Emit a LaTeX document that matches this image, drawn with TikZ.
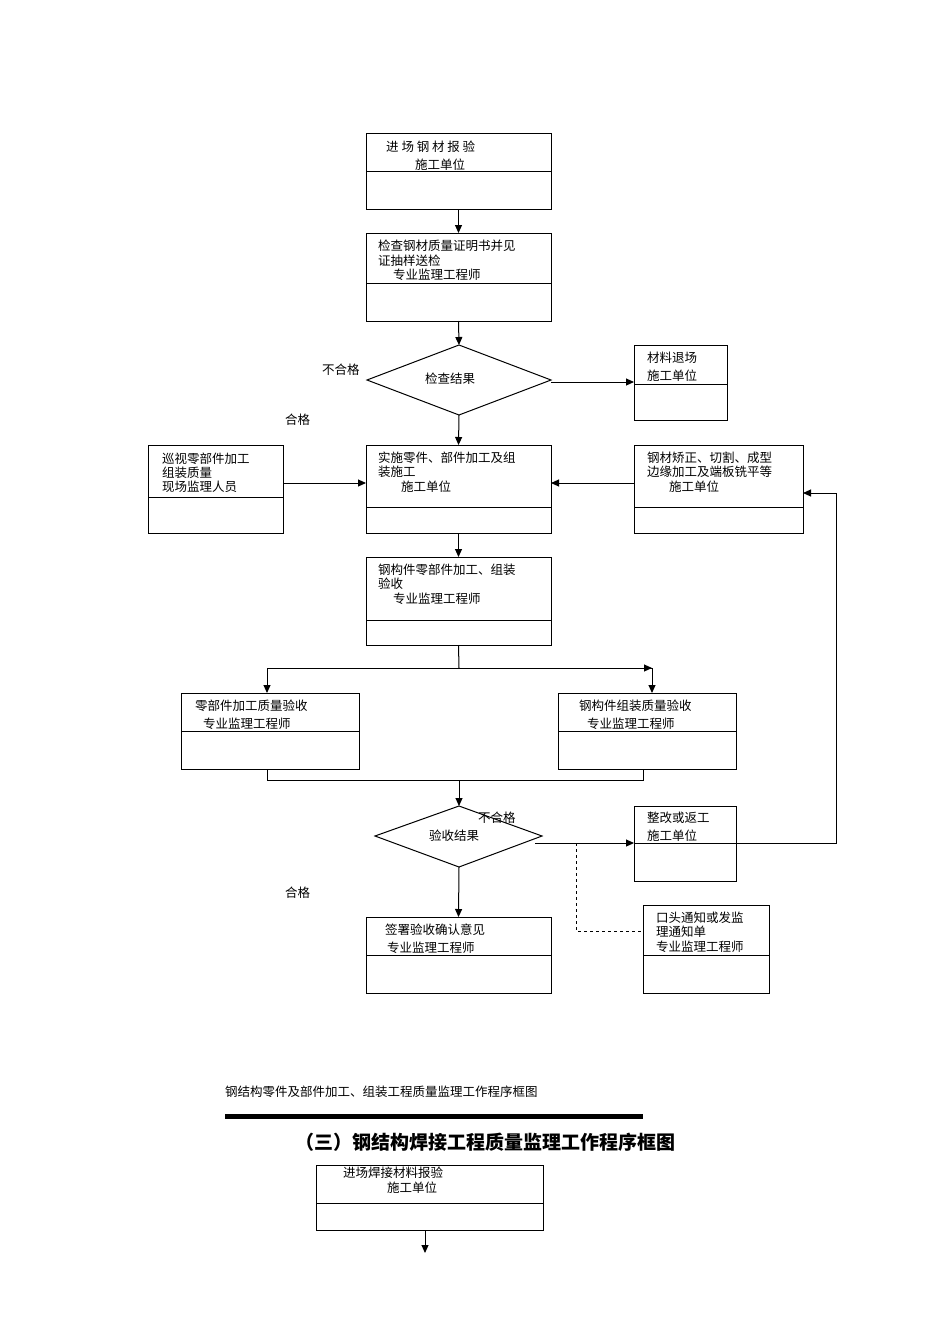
\documentclass[tikz,border=0pt]{standalone}
\usepackage{fontspec}
\newfontfamily\cjk{Noto Sans CJK SC}
\usetikzlibrary{shapes.geometric,arrows.meta}
\begin{document}
\begin{tikzpicture}[x=1pt,y=-1pt,
  bx/.style={draw,line width=1pt},
  tx/.style={anchor=west,inner sep=0pt,font=\cjk\fontsize{12.5}{13}\selectfont},
  ar/.style={-{Triangle[length=8pt,width=7pt]},line width=1pt},
  ln/.style={line width=1pt},
  dm/.style={draw,line width=1pt,diamond,aspect=2.6,inner sep=0pt}]
\useasboundingbox (0,0) rectangle (950,1344);
% box macro via paths
\newcommand{\mybox}[6]{\draw[bx] (#2,#3) rectangle (#4,#5); \draw[ln] (#2,#6) -- (#4,#6);
 \coordinate (#1-n) at ({(#2+#4)/2},#3); \coordinate (#1-s) at ({(#2+#4)/2},#5);
 \coordinate (#1-w) at (#2,{(#3+#5)/2}); \coordinate (#1-e) at (#4,{(#3+#5)/2});}
\mybox{b1}{366}{133}{551}{209}{171}
\node[tx] (t1a) at (386,147) {进 场 钢 材 报 验};
\node[tx] (t1b) at (415,165) {施工单位};
\mybox{b2}{366}{233}{551}{321}{283}
\node[tx] (t2a) at (378,246) {检查钢材质量证明书并见};
\node[tx] (t2b) at (378,261) {证抽样送检};
\node[tx] (t2c) at (393,275) {专业监理工程师};
\draw[dm] (459,345) -- (551,380) -- (459,415) -- (367,380) -- cycle;
\coordinate (d1-n) at (459,345); \coordinate (d1-s) at (459,415); \coordinate (d1-e) at (551,382);
\node[tx] (d1t) at (425,379) {检查结果};
\node[tx] (l1) at (322,370) {不合格};
\node[tx] (l2) at (285,420) {合格};
\mybox{b3}{634}{345}{727}{420}{384}
\node[tx] (t3a) at (647,358) {材料退场};
\node[tx] (t3b) at (647,376) {施工单位};
\mybox{b4}{148}{445}{283}{533}{497}
\node[tx] (t4a) at (162,459) {巡视零部件加工};
\node[tx] (t4b) at (162,473) {组装质量};
\node[tx] (t4c) at (162,487) {现场监理人员};
\mybox{b5}{366}{445}{551}{533}{507}
\node[tx] (t5a) at (378,458) {实施零件、部件加工及组};
\node[tx] (t5b) at (378,472) {装施工};
\node[tx] (t5c) at (401,487) {施工单位};
\mybox{b6}{634}{445}{803}{533}{507}
\node[tx] (t6a) at (647,458) {钢材矫正、切割、成型};
\node[tx] (t6b) at (647,472) {边缘加工及端板铣平等};
\node[tx] (t6c) at (669,487) {施工单位};
\mybox{b7}{366}{557}{551}{645}{620}
\node[tx] (t7a) at (378,570) {钢构件零部件加工、组装};
\node[tx] (t7b) at (378,584) {验收};
\node[tx] (t7c) at (393,599) {专业监理工程师};
\mybox{b8}{181}{693}{359}{769}{731}
\node[tx] (t8a) at (195,706) {零部件加工质量验收};
\node[tx] (t8b) at (203,724) {专业监理工程师};
\mybox{b9}{558}{693}{736}{769}{731}
\node[tx] (t9a) at (579,706) {钢构件组装质量验收};
\node[tx] (t9b) at (587,724) {专业监理工程师};
\draw[dm] (459,806) -- (542,836) -- (459,867) -- (375,836) -- cycle;
\coordinate (d2-n) at (459,806); \coordinate (d2-s) at (459,867); \coordinate (d2-e) at (535,843);
\node[tx] (d2t) at (429,836) {验收结果};
\node[tx] (l3) at (478,818) {不合格};
\node[tx] (l4) at (285,893) {合格};
\mybox{b10}{634}{806}{736}{881}{843}
\node[tx] (t10a) at (647,818) {整改或返工};
\node[tx] (t10b) at (647,836) {施工单位};
\mybox{b11}{366}{917}{551}{993}{955}
\node[tx] (t11a) at (385,930) {签署验收确认意见};
\node[tx] (t11b) at (387,948) {专业监理工程师};
\mybox{b12}{643}{905}{769}{993}{955}
\node[tx] (t12a) at (656,918) {口头通知或发监};
\node[tx] (t12b) at (656,932) {理通知单};
\node[tx] (t12c) at (656,947) {专业监理工程师};
% connectors
\draw[ar] (b1-s) -- (b2-n);
\draw[ar] (b2-s) -- (d1-n);
\draw[ar] (d1-e) -- (634,382);
\draw[ar] (d1-s) -- (b5-n);
\draw[ar] (283,483) -- (366,483);
\draw[ar] (634,483) -- (551,483);
\draw[ar] (b5-s) -- (b7-n);
\draw[ln] (b7-s) -- (459,668);
\draw[ar] (267,668) -- (652,668);
\draw[ln] (267,668) -- (652,668);
\draw[ar] (267,668) -- (267,693);
\draw[ar] (652,668) -- (652,693);
\draw[ln] (267,769) -- (267,780) -- (643,780) -- (643,769);
\draw[ar] (459,780) -- (d2-n);
\draw[ar] (d2-e) -- (634,843);
\draw[ar] (736,843) -- (836,843) -- (836,493) -- (803,493);
\draw[ar] (d2-s) -- (b11-n);
\draw[ln,dashed] (576,843) -- (576,931) -- (643,931);
% caption
\node[tx] (cap) at (225,1092) {钢结构零件及部件加工、组装工程质量监理工作程序框图};
\draw[line width=5pt] (225,1116) -- (643,1116);
\node[anchor=center,inner sep=0pt,font=\cjk\bfseries\fontsize{19}{20}\selectfont] (title) at (485,1142) {（三）钢结构焊接工程质量监理工作程序框图};
\mybox{b13}{316}{1165}{543}{1230}{1203}
\node[tx] (t13a) at (343,1173) {进场焊接材料报验};
\node[tx] (t13b) at (387,1188) {施工单位};
\coordinate (e13) at (425,1253);
\draw[ar] (425,1230) -- (e13);
\end{tikzpicture}
\end{document}
